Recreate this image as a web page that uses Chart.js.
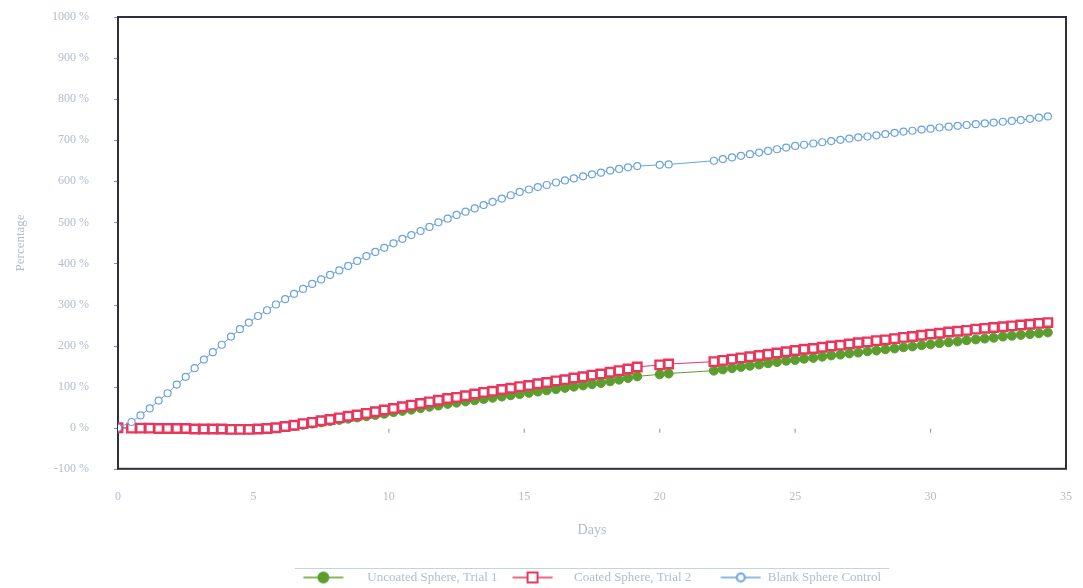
<!DOCTYPE html>
<html>
<head>
<meta charset="utf-8">
<script src="https://cdn.jsdelivr.net/npm/chart.js@4/dist/chart.umd.min.js"></script>
<style>
  html, body { margin: 0; padding: 0; background: #ffffff; }
  #wrap { width: 1083px; height: 588px; }
</style>
</head>
<body>
<div id="wrap"><canvas id="c" width="1083" height="588"></canvas></div>
<script>
// Sampling days (every 8 hours, with missing readings around day 19-22)
const days = [0, 0.5, 0.83, 1.17, 1.5, 1.83, 2.17, 2.5, 2.83, 3.17, 3.5, 3.83, 4.17, 4.5, 4.83, 5.17, 5.5, 5.83,
  6.17, 6.5, 6.83, 7.17, 7.5, 7.83, 8.17, 8.5, 8.83, 9.17, 9.5, 9.83, 10.17, 10.5, 10.83, 11.17, 11.5, 11.83,
  12.17, 12.5, 12.83, 13.17, 13.5, 13.83, 14.17, 14.5, 14.83, 15.17, 15.5, 15.83, 16.17, 16.5, 16.83, 17.17,
  17.5, 17.83, 18.17, 18.5, 18.83, 19.17, 20, 20.33,
  22, 22.33, 22.67, 23, 23.33, 23.67, 24, 24.33, 24.67, 25, 25.33, 25.67, 26, 26.33, 26.67, 27, 27.33, 27.67,
  28, 28.33, 28.67, 29, 29.33, 29.67, 30, 30.33, 30.67, 31, 31.33, 31.67, 32, 32.33, 32.67, 33, 33.33, 33.67,
  34, 34.33];

// Percentage values per series
const sphere1 = [0, -1, -1, -1, -2, -2, -2, -2, -3, -3, -3, -3, -4, -4, -4, -3, -2, 0,
  2, 4, 7, 10, 13, 16, 19, 22, 25, 28, 31, 34, 38, 41, 44, 48, 51, 54, 58, 61, 64, 67, 70, 73, 76, 79, 82,
  85, 88, 91, 94, 97, 100, 103, 106, 109, 113, 117, 121, 125, 130, 132,
  139, 142, 145, 148, 151, 154, 157, 160, 163, 165, 168, 170, 173, 176, 178, 181, 183, 186, 188, 191,
  193, 196, 198, 201, 203, 206, 208, 210, 213, 215, 217, 219, 222, 224, 226, 228, 230, 232];

const sphere2 = [0, -1, -1, -1, -2, -2, -2, -2, -3, -3, -3, -3, -4, -4, -4, -3, -2, 0,
  3, 6, 10, 13, 17, 20, 24, 28, 31, 35, 39, 43, 47, 51, 55, 59, 63, 67, 71, 74, 78, 82, 86, 89, 93, 96, 100,
  103, 107, 110, 114, 117, 121, 124, 128, 131, 135, 139, 143, 148, 153, 155,
  161, 164, 167, 170, 173, 176, 179, 182, 185, 188, 191, 193, 196, 199, 201, 204, 207, 209, 212, 214,
  217, 220, 222, 225, 228, 230, 233, 235, 237, 240, 242, 244, 246, 248, 250, 252, 254, 256];

const blank = [0, 14, 30, 47, 66, 84, 105, 124, 145, 166, 184, 202, 222, 240, 256, 272, 286, 300,
  313, 326, 338, 350, 361, 372, 383, 394, 406, 418, 428, 438, 449, 460, 469, 479, 489, 500, 509, 518, 526,
  534, 542, 550, 558, 566, 574, 580, 586, 591, 597, 602, 607, 612, 617, 621, 626, 630, 634, 637, 640, 641,
  650, 654, 658, 662, 666, 670, 674, 678, 682, 686, 689, 692, 695, 698, 701, 704, 707, 709, 712, 715,
  718, 721, 723, 726, 728, 731, 733, 735, 737, 739, 741, 743, 745, 747, 749, 752, 755, 758];

const seriesNames = ['Uncoated Sphere, Trial 1', 'Coated Sphere, Trial 2', 'Blank Sphere Control'];
const xTicks = [0, 5, 10, 15, 20, 25, 30, 35];
const yTicks = [-100, 0, 100, 200, 300, 400, 500, 600, 700, 800, 900, 1000];

const GREEN = '#5c9e2e', RED = '#e8365d', BLUE = '#6aa3e0';
const TEXT = '#b3bccb';
const SERIF = '"Liberation Serif", "DejaVu Serif", serif';
const GLYPH_W = 70;

function pts(vals) { return days.map((d, i) => ({ x: d, y: vals[i] })); }

// Legend glyph: a short line with the series marker, placed at offset m inside the slot
function glyph(color, style, fill, m) {
  const c = document.createElement('canvas');
  c.width = GLYPH_W; c.height = 14;
  const g = c.getContext('2d');
  g.strokeStyle = color; g.lineWidth = 1.5;
  g.beginPath(); g.moveTo(m - 20, 7); g.lineTo(m + 20, 7); g.stroke();
  g.fillStyle = fill; g.lineWidth = 2;
  if (style === 'rect') {
    g.fillRect(m - 5, 2, 10, 10); g.strokeRect(m - 5, 2, 10, 10);
  } else {
    g.beginPath(); g.arc(m, 7, style === 'big' ? 5 : 4, 0, Math.PI * 2); g.fill(); g.stroke();
  }
  return c;
}
const glyphs = [glyph(GREEN, 'big', GREEN, 32.5), glyph(RED, 'rect', '#ffffff', 35),
                glyph(BLUE, 'circle', '#ffffff', 49.5)];

// Plot frame, axis tick marks, and the rule above the legend
const framePlugin = {
  id: 'frame',
  afterLayout(chart) {
    // legend row sits right of the canvas centre and close to the bottom edge
    const lg = chart.legend;
    if (lg) { lg.left += 53; lg.right += 53; lg.top += 6; lg.bottom += 6; }
  },
  beforeDatasetsDraw(chart) {
    const { ctx, chartArea: a, scales } = chart;
    ctx.save();
    const y0 = scales.y.getPixelForValue(0);
    ctx.strokeStyle = '#9aa0aa'; ctx.lineWidth = 1.2;
    xTicks.forEach(v => {
      const px = scales.x.getPixelForValue(v);
      ctx.beginPath(); ctx.moveTo(px, y0 + 1); ctx.lineTo(px, y0 + 5); ctx.stroke();
    });
    ctx.strokeStyle = '#8a8f99'; ctx.lineWidth = 1;
    yTicks.forEach(v => {
      const py = Math.round(scales.y.getPixelForValue(v)) + 0.5;
      ctx.beginPath(); ctx.moveTo(a.left - 4, py); ctx.lineTo(a.left, py); ctx.stroke();
    });
    ctx.strokeStyle = '#2e2e3e'; ctx.lineWidth = 2;
    ctx.strokeRect(a.left, a.top, a.right - a.left, a.bottom - a.top);
    ctx.restore();
  },
  afterDraw(chart) {
    const lg = chart.legend;
    if (!lg || !lg.legendHitBoxes || !lg.legendHitBoxes.length) return;
    const hb = lg.legendHitBoxes;
    const l = Math.min(...hb.map(h => h.left)) + 4;
    const r = Math.max(...hb.map(h => h.left + h.width)) + 8;
    const y = Math.round(hb[0].top + hb[0].height / 2 - 10) + 0.5;
    const ctx = chart.ctx;
    ctx.save();
    ctx.strokeStyle = '#c6d2de'; ctx.lineWidth = 1.2;
    ctx.beginPath(); ctx.moveTo(l, y); ctx.lineTo(r, y); ctx.stroke();
    ctx.restore();
  }
};

new Chart(document.getElementById('c'), {
  type: 'line',
  data: {
    datasets: [
      { label: seriesNames[0], data: pts(sphere1), borderColor: GREEN, backgroundColor: GREEN,
        borderWidth: 1, pointStyle: 'circle', pointRadius: 4.5, pointBorderWidth: 1,
        pointBackgroundColor: GREEN, pointBorderColor: GREEN, order: 3 },
      { label: seriesNames[1], data: pts(sphere2), borderColor: RED, backgroundColor: '#ffffff',
        borderWidth: 1, pointStyle: 'rect', pointRadius: 6, pointBorderWidth: 2.4,
        pointBackgroundColor: '#ffffff', pointBorderColor: RED, order: 2 },
      { label: seriesNames[2], data: pts(blank), borderColor: BLUE, backgroundColor: '#ffffff',
        borderWidth: 1, pointStyle: 'circle', pointRadius: 3.5, pointBorderWidth: 1.2,
        pointBackgroundColor: '#ffffff', pointBorderColor: BLUE, order: 1 }
    ]
  },
  options: {
    responsive: false,
    animation: false,
    layout: { padding: { top: 17, right: 17, bottom: 0, left: 0 } },
    plugins: {
      tooltip: { enabled: false },
      legend: {
        position: 'bottom',
        title: { display: true, text: '', padding: { top: 0, bottom: 5 }, font: { size: 1 } },
        labels: {
          usePointStyle: true,
          pointStyleWidth: GLYPH_W,
          padding: 0,
          color: TEXT,
          font: { family: SERIF, size: 13 },
          generateLabels: (chart) => chart.data.datasets.map((ds, i) => ({
            text: ds.label, pointStyle: glyphs[i], fontColor: TEXT,
            strokeStyle: ds.borderColor, fillStyle: ds.borderColor, lineWidth: 0,
            hidden: false, datasetIndex: i
          }))
        }
      }
    },
    scales: {
      x: {
        type: 'linear', min: 0, max: 35,
        afterBuildTicks: (s) => { s.ticks = xTicks.map(v => ({ value: v })); },
        afterFit: (s) => { s.height = 90; },
        grid: { display: true, drawOnChartArea: false, drawTicks: true, tickLength: 20,
                tickColor: 'rgba(0,0,0,0)' },
        border: { display: false },
        ticks: { color: TEXT, padding: 1, font: { family: SERIF, size: 12 } },
        title: { display: true, text: 'Days', color: TEXT, padding: { top: 0, bottom: 20 },
                 font: { family: SERIF, size: 14 } }
      },
      y: {
        min: -100, max: 1000,
        afterBuildTicks: (s) => { s.ticks = yTicks.map(v => ({ value: v })); },
        afterFit: (s) => { s.width = 118; },
        grid: { display: true, drawOnChartArea: false, drawTicks: true, tickLength: 28,
                tickColor: 'rgba(0,0,0,0)' },
        border: { display: false },
        ticks: { color: TEXT, padding: 1, font: { family: SERIF, size: 12 },
                 callback: (v) => v + ' %' },
        title: { display: true, text: 'Percentage', color: TEXT, padding: { top: 13, bottom: 0 },
                 font: { family: SERIF, size: 13 } }
      }
    }
  },
  plugins: [framePlugin]
});
</script>
</body>
</html>
